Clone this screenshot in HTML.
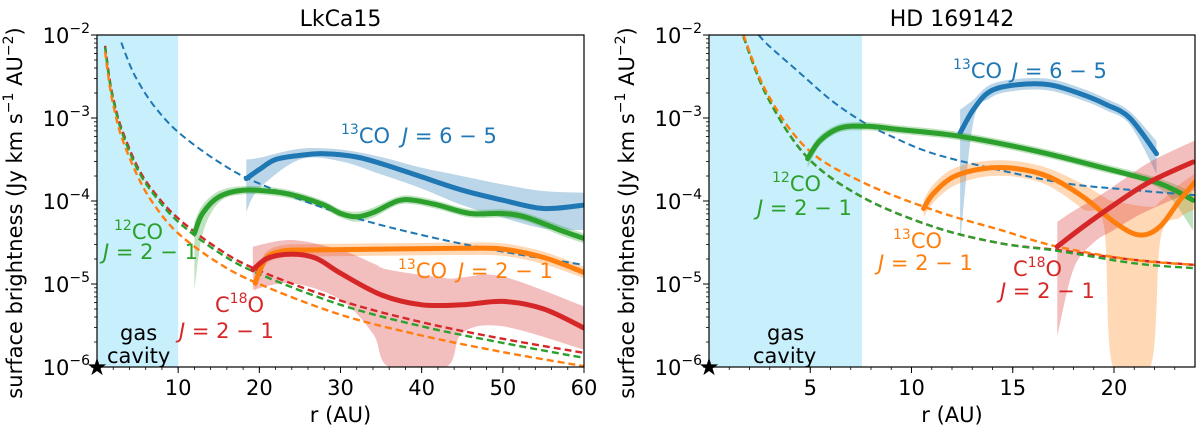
<!DOCTYPE html>
<html><head><meta charset="utf-8">
<style>
html,body{margin:0;padding:0;background:#fff;}
svg{display:block;font-family:"DejaVu Sans","Liberation Sans",sans-serif;}
</style></head>
<body>
<svg id="fig" width="1200" height="429" viewBox="0 0 1200 429" xmlns="http://www.w3.org/2000/svg"></svg>
<script>
// ---------- LkCa15 data (log10 surface brightness) ----------
const L_blue_r = [18.4,20,22,25,28,32,36,40,45,50,55,60];
const L_blue_v = [-3.73,-3.62,-3.5,-3.45,-3.43,-3.47,-3.58,-3.71,-3.87,-3.99,-4.09,-4.05];
const L_blue_band_r = [18.4,20,25,30,35,40,45,50,55,60];
const L_blue_hi = [-3.5,-3.48,-3.37,-3.38,-3.47,-3.6,-3.7,-3.8,-3.88,-3.9];
const L_blue_lo = [-4.13,-3.85,-3.5,-3.52,-3.68,-3.85,-4.05,-4.2,-4.33,-4.35];
const L_green_r = [12,13,15,18,22,25,28,30,32,34,37,39,42,46,50,53,57,60];
const L_green_v = [-4.39,-4.15,-3.95,-3.87,-3.89,-3.95,-4.05,-4.15,-4.19,-4.14,-4.0,-3.99,-4.05,-4.15,-4.15,-4.2,-4.35,-4.45];
const L_green_hi = [-4.25,-4.05,-3.88,-3.82,-3.84,-3.9,-4.0,-4.1,-4.13,-4.08,-3.95,-3.94,-4.0,-4.1,-4.1,-4.15,-4.29,-4.39];
const L_green_lo = [-5.07,-4.4,-4.02,-3.92,-3.94,-4.0,-4.1,-4.2,-4.25,-4.2,-4.05,-4.04,-4.1,-4.2,-4.2,-4.25,-4.41,-4.51];
const L_orange_r = [19.5,20,21,23,26,35,45,50,55,60];
const L_orange_v = [-4.99,-4.85,-4.67,-4.6,-4.59,-4.58,-4.57,-4.58,-4.68,-4.86];
const L_orange_hi = [-4.85,-4.75,-4.6,-4.53,-4.52,-4.51,-4.5,-4.51,-4.61,-4.79];
const L_orange_lo = [-5.1,-4.95,-4.75,-4.68,-4.67,-4.66,-4.65,-4.66,-4.76,-4.93];
const L_red_r = [19.2,21,24,27,30,35,40,45,50,55,60];
const L_red_v = [-4.83,-4.69,-4.64,-4.69,-4.87,-5.13,-5.25,-5.25,-5.21,-5.3,-5.53];
const L_red_band_r = [19.2,24,30,34,36,43,45,50,60];
const L_red_hi = [-4.55,-4.47,-4.59,-4.75,-4.83,-4.93,-4.92,-4.91,-5.27];
const L_red_lo = [-5.07,-4.99,-5.19,-5.6,-6.0,-6.0,-5.59,-5.51,-5.79];
const L_dblue_r = [3,4,5,7,10,15,20,30,40,50,60];
const L_dblue_v = [-2.09,-2.35,-2.55,-2.85,-3.17,-3.53,-3.79,-4.15,-4.41,-4.61,-4.77];
const L_dmod_r = [1,1.5,2,3,5,7,10,15,20,30,40,50,60];
const L_dred_v = [-2.13,-2.5,-2.76,-3.12,-3.59,-3.89,-4.21,-4.58,-4.84,-5.2,-5.46,-5.66,-5.83];
const L_dgreen_v = [-2.15,-2.52,-2.78,-3.15,-3.62,-3.92,-4.25,-4.62,-4.88,-5.25,-5.51,-5.71,-5.89];
const L_dorange_v = [-2.2,-2.57,-2.84,-3.22,-3.7,-4.04,-4.39,-4.75,-5.0,-5.37,-5.62,-5.82,-5.99];
// ---------- HD 169142 data ----------
const H_blue_r = [12.4,13.05,13.88,15.19,16.83,18.48,19.63,20.78,22.1];
const H_blue_v = [-3.18,-2.9,-2.68,-2.6,-2.6,-2.72,-2.84,-3.0,-3.43];
const H_blue_hi = [-2.9,-2.78,-2.6,-2.53,-2.53,-2.65,-2.77,-2.92,-3.28];
const H_blue_lo = [-4.51,-3.05,-2.76,-2.67,-2.67,-2.79,-2.91,-3.08,-3.67];
const H_green_r = [4.87,5.49,6.48,7.8,9.44,12.4,16.0,19.3,22.26,23.9];
const H_green_v = [-3.49,-3.27,-3.12,-3.1,-3.14,-3.22,-3.39,-3.59,-3.79,-3.99];
const H_green_hi = [-3.42,-3.21,-3.07,-3.05,-3.09,-3.17,-3.34,-3.54,-3.73,-3.9];
const H_green_lo = [-3.6,-3.33,-3.17,-3.15,-3.19,-3.27,-3.44,-3.64,-3.85,-4.35];
const H_orange_r = [10.6,11.08,12.07,13.55,15.19,16.8,18.48,20.1,21.28,22.26,23.25,24];
const H_orange_v = [-4.09,-3.91,-3.71,-3.61,-3.61,-3.71,-3.95,-4.27,-4.41,-4.31,-3.99,-3.77];
const H_orange_band_r = [10.6,11.08,12.07,13.55,15.19,16.8,18.48,19.5,19.95,21.8,22.3,23.25,24];
const H_orange_hi = [-3.99,-3.8,-3.61,-3.52,-3.52,-3.61,-3.8,-3.95,-4.0,-4.07,-4.0,-3.8,-3.67];
const H_orange_lo = [-4.19,-4.02,-3.82,-3.71,-3.71,-3.82,-4.1,-4.3,-6.0,-6.0,-4.45,-4.2,-4.1];
const H_red_r = [17.2,18.48,20.1,21.77,23.9];
const H_red_v = [-4.55,-4.31,-4.03,-3.77,-3.53];
const H_red_band_r = [17.2,18,19,20,21,22,24];
const H_red_hi = [-4.25,-4.12,-3.98,-3.82,-3.65,-3.5,-3.27];
const H_red_lo = [-5.63,-4.82,-4.5,-4.35,-4.2,-4.08,-3.87];
const H_dblue_r = [2.45,3,4.5,6,7.55,9,11.1,14.4,17.7,21,24];
const H_dblue_v = [-2.0,-2.14,-2.46,-2.78,-3.04,-3.22,-3.43,-3.63,-3.79,-3.87,-3.93];
const H_dmod_r = [1.7,2.87,4.84,7.55,11.08,14.4,17.2,21,24];
const H_dred_v = [-2.02,-2.74,-3.47,-3.95,-4.31,-4.51,-4.59,-4.71,-4.77];
const H_dgreen_v = [-2.02,-2.74,-3.47,-3.95,-4.31,-4.51,-4.6,-4.75,-4.81];
const H_dorange_v = [-2.0,-2.7,-3.37,-3.77,-4.11,-4.35,-4.55,-4.71,-4.77];
const yTickExp = [-2,-3,-4,-5,-6];
const L_xticks = [10,20,30,40,50,60];
const H_xticks = [5,10,15,20];

const NS="http://www.w3.org/2000/svg";
const svg=document.getElementById('fig');
const C={blue:'#1f77b4',orange:'#ff7f0e',green:'#2ca02c',red:'#d62728'};
const FS=21, SUP=14;
function mk(tag,attrs,parent){const e=document.createElementNS(NS,tag);for(const k in attrs)e.setAttribute(k,attrs[k]);(parent||svg).appendChild(e);return e;}

function panel(id,x0,x1,xmin,xmax,title,cav,xticks,xminor){
  const top=35,bot=367;
  const g=mk('g',{});
  
  
  const X=r=>x0+(r-xmin)/(xmax-xmin)*(x1-x0);
  const Y=l=>top+(-2-l)/4*(bot-top);
  const clipId='clip-'+id;
  const cp=mk('clipPath',{id:clipId},g);mk('rect',{x:x0,y:top,width:x1-x0,height:bot-top},cp);
  const pg=mk('g',{'clip-path':'url(#'+clipId+')'},g);
  const cavR=mk('rect',{x:x0,y:top,width:X(cav)-x0,height:bot-top,fill:'#c8f0fc'},pg);
  
  
  return {g,pg,X,Y,x0,x1,top,bot,xticks,xminor,title,xmin,xmax};
}
function smooth(pts){
  if(pts.length<2)return '';
  let d='M'+pts[0][0].toFixed(1)+','+pts[0][1].toFixed(1);
  for(let i=0;i<pts.length-1;i++){
    const p0=pts[i-1]||pts[i],p1=pts[i],p2=pts[i+1],p3=pts[i+2]||p2;
    const c1=[p1[0]+(p2[0]-p0[0])/6,p1[1]+(p2[1]-p0[1])/6];
    const c2=[p2[0]-(p3[0]-p1[0])/6,p2[1]-(p3[1]-p1[1])/6];
    d+='C'+c1[0].toFixed(1)+','+c1[1].toFixed(1)+' '+c2[0].toFixed(1)+','+c2[1].toFixed(1)+' '+p2[0].toFixed(1)+','+p2[1].toFixed(1);
  }
  return d;
}
function band(P,rs,hi,lo,col,name){
  const up=rs.map((r,i)=>[P.X(r),P.Y(hi[i])]);
  const dn=rs.map((r,i)=>[P.X(r),P.Y(lo[i])]).reverse();
  let d=smooth(up);
  const d2=smooth(dn);
  d+='L'+d2.slice(1)+'Z';
  const e=mk('path',{d:d,fill:col,'fill-opacity':0.3,stroke:'none'},P.pg);
  
  
}
function line(P,rs,vs,col,w,dash,name){
  const pts=rs.map((r,i)=>[P.X(r),P.Y(vs[i])]);
  const e=mk('path',{d:smooth(pts),fill:'none',stroke:col,'stroke-width':w,'stroke-dasharray':dash||'none','stroke-linecap':dash?'butt':'round'},P.pg);
  
  
}
function axes(P,ylabelX,tickLabelX){
  const g=P.g;
  const fr=mk('rect',{x:P.x0,y:P.top,width:P.x1-P.x0,height:P.bot-P.top,fill:'none',stroke:'#000','stroke-width':1.2},g);
  
  
  yTickExp.forEach(e=>{
    const y=P.Y(e);
    mk('line',{x1:P.x0-6,x2:P.x0,y1:y,y2:y,stroke:'#000','stroke-width':1},g);
    const t=mk('text',{x:tickLabelX,y:y+8,'text-anchor':'end','font-size':FS},g);
    
    
    t.appendChild(document.createTextNode('10'));
    const s=mk('tspan',{dy:-10,'font-size':SUP},t);s.textContent='\u2212'+(-e);
    if(e>-6){for(let k=2;k<10;k++){const ym=P.Y(e-1+Math.log10(k));mk('line',{x1:P.x0-3,x2:P.x0,y1:ym,y2:ym,stroke:'#000','stroke-width':0.8},g);}}
  });
  P.xticks.forEach(v=>{
    const x=P.X(v);
    mk('line',{x1:x,x2:x,y1:P.bot,y2:P.bot+6,stroke:'#000','stroke-width':1},g);
    const t=mk('text',{x:x,y:P.bot+28,'text-anchor':'middle','font-size':FS},g);
    
    
    t.textContent=v;
  });
  for(let v=P.xmin+P.xminor;v<P.xmax;v+=P.xminor){const x=P.X(v);mk('line',{x1:x,x2:x,y1:P.bot,y2:P.bot+3,stroke:'#000','stroke-width':0.8},g);}
  const xl=mk('text',{x:(P.x0+P.x1)/2,y:422,'text-anchor':'middle','font-size':FS},g);
  
  
  xl.textContent='r (AU)';
  const tt=mk('text',{x:(P.x0+P.x1)/2,y:26,'text-anchor':'middle','font-size':22},g);
  
  
  tt.textContent=P.title;
  const yl=mk('text',{x:0,y:0,'text-anchor':'middle','font-size':FS,transform:'translate('+ylabelX+','+((P.top+P.bot)/2+12)+') rotate(-90)'},g);
  
  
  yl.appendChild(document.createTextNode('surface brightness (Jy km s'));
  let s=mk('tspan',{dy:-9,'font-size':SUP},yl);s.textContent='\u22121';
  s=mk('tspan',{dy:9},yl);s.textContent=' AU';
  s=mk('tspan',{dy:-9,'font-size':SUP},yl);s.textContent='\u22122';
  s=mk('tspan',{dy:9},yl);s.textContent=')';
  const st=mk('text',{x:P.x0,y:P.bot+8,'text-anchor':'middle','font-size':24},g);
  
  
  st.textContent='\u2605';
}
function label(g,x,y,col,parts,name){
  const t=mk('text',{x:x,y:y,fill:col,'font-size':FS},g);
  
  
  parts.forEach(p=>{const s=mk('tspan',p.a||{},t);s.textContent=p.t;});
}
function isoLabel(g,x,y,col,iso,mol,name){
  label(g,x,y,col,[{t:iso,a:{'font-size':SUP,dy:-9}},{t:mol,a:{dy:9}}],name);
}
function jLabel(g,x,y,col,txt,name){
  label(g,x,y,col,[{t:'J',a:{'font-style':'italic'}},{t:txt}],name);
}

// ---------- Left panel ----------
const A=panel('lkca15',97,584,0,60,'LkCa15',10,L_xticks,2);
band(A,L_blue_band_r,L_blue_hi,L_blue_lo,C.blue,'band-13co-65');
band(A,L_green_r,L_green_hi,L_green_lo,C.green,'band-12co-21');
band(A,L_orange_r,L_orange_hi,L_orange_lo,C.orange,'band-13co-21');
band(A,L_red_band_r,L_red_hi,L_red_lo,C.red,'band-c18o-21');
line(A,L_dblue_r,L_dblue_v,C.blue,2,'7,4','model-13co-65');
line(A,L_dmod_r,L_dred_v,C.red,2.4,'7,4','model-c18o-21');
line(A,L_dmod_r,L_dgreen_v,C.green,2.4,'7,4','model-12co-21');
line(A,L_dmod_r,L_dorange_v,C.orange,2.4,'7,4','model-13co-21');
line(A,L_blue_r,L_blue_v,C.blue,5,null,'line-13co-65');
line(A,L_green_r,L_green_v,C.green,5,null,'line-12co-21');
line(A,L_orange_r,L_orange_v,C.orange,5,null,'line-13co-21');
line(A,L_red_r,L_red_v,C.red,5,null,'line-c18o-21');
axes(A,22,90);
isoLabel(A.g,341,143,C.blue,'13','CO','label-13co-65');
jLabel(A.g,402,143,C.blue,' = 6 \u2212 5','label-13co-65-j');
isoLabel(A.g,114,239,C.green,'12','CO','label-12co');
jLabel(A.g,103,259,C.green,' = 2 \u2212 1','label-12co-j');
isoLabel(A.g,398,278,C.orange,'13','CO','label-13co-21');
jLabel(A.g,458,278,C.orange,' = 2 \u2212 1','label-13co-21-j');
label(A.g,215,312,C.red,[{t:'C'},{t:'18',a:{'font-size':SUP,dy:-9}},{t:'O',a:{dy:9}}],'label-c18o');
jLabel(A.g,179,338,C.red,' = 2 \u2212 1','label-c18o-j');
label(A.g,120,340,'#000',[{t:'gas'}],'gas-label');
label(A.g,107,363,'#000',[{t:'cavity'}],'cavity-label');

// ---------- Right panel ----------
const B=panel('hd169142',709,1195,0,24,'HD 169142',7.55,H_xticks,1);
band(B,H_blue_r,H_blue_hi,H_blue_lo,C.blue,'band-13co-65');
band(B,H_green_r,H_green_hi,H_green_lo,C.green,'band-12co-21');
band(B,H_orange_band_r,H_orange_hi,H_orange_lo,C.orange,'band-13co-21');
band(B,H_red_band_r,H_red_hi,H_red_lo,C.red,'band-c18o-21');
line(B,H_dblue_r,H_dblue_v,C.blue,2,'7,4','model-13co-65');
line(B,H_dmod_r,H_dred_v,C.red,2.4,'7,4','model-c18o-21');
line(B,H_dmod_r,H_dgreen_v,C.green,2.4,'7,4','model-12co-21');
line(B,H_dmod_r,H_dorange_v,C.orange,2.4,'7,4','model-13co-21');
line(B,H_blue_r,H_blue_v,C.blue,5,null,'line-13co-65');
line(B,H_green_r,H_green_v,C.green,5,null,'line-12co-21');
line(B,H_orange_r,H_orange_v,C.orange,5,null,'line-13co-21');
line(B,H_red_r,H_red_v,C.red,5,null,'line-c18o-21');
axes(B,634,702);
isoLabel(B.g,953,78,C.blue,'13','CO','label-13co-65');
jLabel(B.g,1012,78,C.blue,' = 6 \u2212 5','label-13co-65-j');
isoLabel(B.g,772,191,C.green,'12','CO','label-12co');
jLabel(B.g,757,215,C.green,' = 2 \u2212 1','label-12co-j');
isoLabel(B.g,893,248,C.orange,'13','CO','label-13co-21');
jLabel(B.g,878,270,C.orange,' = 2 \u2212 1','label-13co-21-j');
label(B.g,1013,276,C.red,[{t:'C'},{t:'18',a:{'font-size':SUP,dy:-9}},{t:'O',a:{dy:9}}],'label-c18o');
jLabel(B.g,1000,298,C.red,' = 2 \u2212 1','label-c18o-j');
label(B.g,767,340,'#000',[{t:'gas'}],'gas-label');
label(B.g,753,363,'#000',[{t:'cavity'}],'cavity-label');
</script>
</body></html>
